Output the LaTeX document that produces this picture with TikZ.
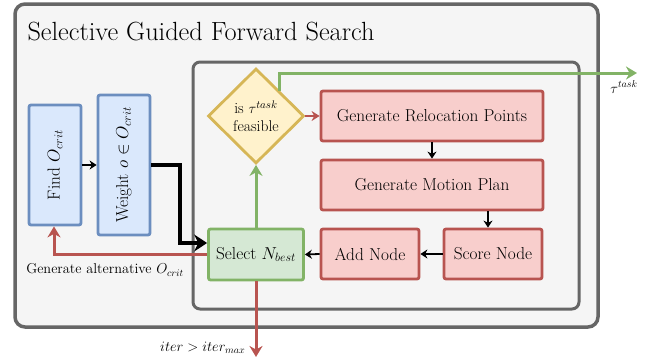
\documentclass[tikz,border=0pt]{standalone}
\usetikzlibrary{arrows.meta,shapes.geometric,calc}
\definecolor{frameline}{HTML}{666666}
\definecolor{framefill}{HTML}{F5F5F5}
\definecolor{bluefill}{HTML}{DAE8FC}
\definecolor{blueline}{HTML}{6C8EBF}
\definecolor{redfill}{HTML}{F8CECC}
\definecolor{redline}{HTML}{B85450}
\definecolor{greenfill}{HTML}{D5E8D4}
\definecolor{greenline}{HTML}{82B366}
\definecolor{yellowfill}{HTML}{FFF2CC}
\definecolor{yellowline}{HTML}{D6B656}
\begin{document}
\begin{tikzpicture}[x=1pt,y=-1pt,
  box/.style={rectangle, rounded corners=2pt, line width=2.8pt, inner sep=0pt,
    font=\fontsize{17.3}{20}\selectfont},
  bluebox/.style={box, draw=blueline, fill=bluefill},
  redbox/.style={box, draw=redline, fill=redfill},
  greenbox/.style={box, draw=greenline, fill=greenfill},
  decision/.style={diamond, draw=yellowline, fill=yellowfill, line width=2.8pt,
    inner sep=0pt, align=center, font=\fontsize{15.6}{18}\selectfont},
  flow/.style={-{Stealth[length=7pt,width=9pt]}, line width=1.8pt, black},
  bigflow/.style={-{Stealth[length=13pt,width=17pt]}, line width=4pt, black},
  redflow/.style={-{Stealth[length=11pt,width=13pt]}, line width=3pt, redline},
  greenflow/.style={-{Stealth[length=11pt,width=13pt]}, line width=3pt, greenline},
  lbl/.style={font=\fontsize{14.3}{17}\selectfont}
]
\useasboundingbox (0,0) rectangle (654,364);

% containers
\draw[line width=3.5pt, draw=frameline, fill=framefill, rounded corners=10pt]
  (15,4) rectangle (598,327);
\node[anchor=west, font=\fontsize{26.3}{30}\selectfont] (title) at (24,32)
  {Selective Guided Forward Search};
\draw[line width=3pt, draw=frameline, fill=framefill, rounded corners=7pt]
  (193,62) rectangle (579,309);

% left column
\node[bluebox, minimum width=52pt, minimum height=120pt] (find) at (55,165)
  {\rotatebox{90}{Find $O_{crit}$}};
\node[bluebox, minimum width=52pt, minimum height=140pt] (weight) at (124,165)
  {\rotatebox{90}{Weight $o\in O_{crit}$}};

% search loop
\node[greenbox, minimum width=95pt, minimum height=51pt] (select) at (256,254.5)
  {Select $N_{best}$};
\node[decision, minimum width=96pt, minimum height=95pt] (feas) at (256,116)
  {is $\tau^{task}$\\feasible};
\node[redbox, minimum width=222pt, minimum height=50pt] (reloc) at (432,116)
  {Generate Relocation Points};
\node[redbox, minimum width=222pt, minimum height=50pt] (motion) at (432,185)
  {Generate Motion Plan};
\node[redbox, minimum width=98pt, minimum height=50pt] (score) at (493,254)
  {Score Node};
\node[redbox, minimum width=98pt, minimum height=50pt] (add) at (370,254)
  {Add Node};

% connectors
\draw[flow] (find.east) -- (weight.west);
\draw[bigflow] (weight.east) -- (180,165) -- (180,243) -- (select.west |- 0,243);
\draw[redflow] (select.west |- 0,254) -- (54,254) -- (find.south -| 54,0);
\node[lbl, anchor=center] (alt) at (105,270) {Generate alternative $O_{crit}$};

\draw[greenflow] (select.north) -- (feas.south);
\coordinate (exitpt) at ($(feas.north)!0.48!(feas.east)$);
\coordinate (taskend) at (637,73);
\draw[greenflow] (exitpt) -- (exitpt |- taskend) -- (taskend);
\node[lbl, anchor=center] (tasklbl) at (624,87) {$\tau^{task}$};

\draw[-{Stealth[length=8pt,width=10pt]}, line width=2.2pt, redline] (feas.east) -- (reloc.west);
\draw[flow] (reloc.south) -- (motion.north);
\draw[flow] ($(motion.south)+(56,0)$) -- ($(score.north)+(-5,0)$);
\draw[flow] (score.west) -- (add.east);
\draw[flow] (add.west) -- (select.east);

\coordinate (iterend) at (256,357);
\draw[redflow] (select.south) -- (iterend);
\node[lbl, anchor=east] (iterlbl) at (249,348) {$iter > iter_{max}$};
\end{tikzpicture}
\end{document}
